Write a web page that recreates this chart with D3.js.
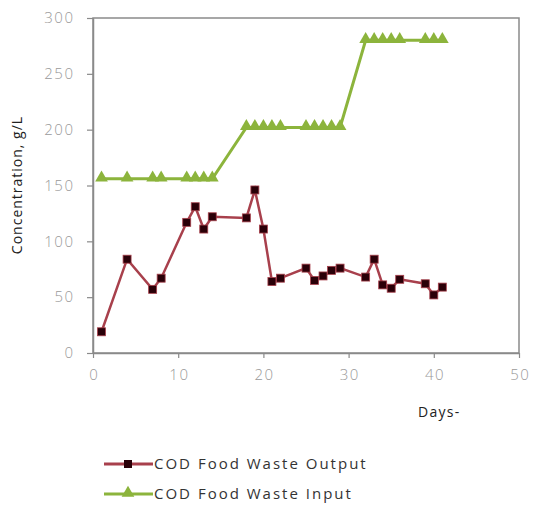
<!DOCTYPE html>
<html><head><meta charset="utf-8">
<script src="https://cdn.jsdelivr.net/npm/d3@7"></script>
<style>body{margin:0;background:#fff}svg{display:block}text{font-family:"Open Sans","Liberation Sans",sans-serif}</style>
</head><body>
<svg id="c" width="533" height="515"></svg>
<script>
const outDays = [1,4,7,8,11,12,13,14,18,19,20,21,22,25,26,27,28,29,32,33,34,35,36,39,40,41];
const outVals = [19,84,57,67,117,131,111,122,121,146,111,64,67,76,65,69,74,76,68,84,61,58,66,62,52,59];
const inDays = [1,4,7,8,11,12,13,14,18,19,20,21,22,25,26,27,28,29,32,33,34,35,36,39,40,41];
const inVals = [156,156,156,156,156,156,156,156,202,202,202,202,202,202,202,202,202,202,280,280,280,280,280,280,280,280];
const xTicks = [0,10,20,30,40,50];
const yTicks = [0,50,100,150,200,250,300];
const seriesNames = ["COD Food Waste Output","COD Food Waste Input"];

const svg = d3.select("#c");
const x = d3.scaleLinear().domain([0,50]).range([93,519]);
const y = d3.scaleLinear().domain([0,300]).range([353,18]);
const axisCol = "#8a8a8a", lblCol = "#9a9a9a";
const redLine = "#a8404c", redMark = "#2a0008", green = "#8cb43c";

svg.append("rect").attr("x",93).attr("y",18).attr("width",426).attr("height",335)
  .attr("fill","none").attr("stroke",axisCol).attr("stroke-width",1.5);

const xa = svg.append("g").attr("transform","translate(0,353)")
  .call(d3.axisBottom(x).tickValues(xTicks).tickSize(5).tickSizeOuter(0));
const ya = svg.append("g").attr("transform","translate(93,0)")
  .call(d3.axisLeft(y).tickValues(yTicks).tickSize(6).tickSizeOuter(0));
[xa,ya].forEach(a=>{
  a.select(".domain").attr("stroke",axisCol).attr("stroke-width",1.5);
  a.selectAll(".tick line").attr("stroke",axisCol).attr("stroke-width",1.2);
  a.selectAll("text").attr("fill",lblCol).attr("font-size",15).attr("font-weight",300).attr("letter-spacing","1.5px");
});
xa.selectAll("text").attr("dy","1.25em").attr("dx","0.7px");
ya.selectAll("text").attr("x",-18.5);

// input series
const inData = inDays.map((d,i)=>[d,inVals[i]]);
svg.append("path").datum(inData).attr("fill","none").attr("stroke",green).attr("stroke-width",3)
  .attr("d",d3.line().x(d=>x(d[0])).y(d=>y(d[1])));
const tri = d3.symbol().type(d3.symbolTriangle).size(70);
svg.selectAll(".tri").data(inData).join("path").attr("class","tri")
  .attr("transform",d=>`translate(${x(d[0])},${y(d[1])-1})`).attr("d",tri).attr("fill",green);

// output series
const outData = outDays.map((d,i)=>[d,outVals[i]]);
svg.append("path").datum(outData).attr("fill","none").attr("stroke",redLine).attr("stroke-width",2.5)
  .attr("d",d3.line().x(d=>x(d[0])).y(d=>y(d[1])));
svg.selectAll(".sq").data(outData).join("rect").attr("class","sq")
  .attr("x",d=>x(d[0])-4).attr("y",d=>y(d[1])-4).attr("width",8).attr("height",8)
  .attr("fill",redMark).attr("stroke",redLine).attr("stroke-width",0.8);

// axis titles
svg.append("text").attr("x",418).attr("y",417).attr("font-size",14).attr("fill","#222")
  .attr("letter-spacing","1.3px").text("Days-");
svg.append("text").attr("transform","translate(22,185) rotate(-90)").attr("text-anchor","middle")
  .attr("font-size",14).attr("fill","#222").attr("letter-spacing","1px").text("Concentration, g/L");

// legend
const leg = [{y:464,c:redLine,m:"sq"},{y:494,c:green,m:"tri"}];
leg.forEach((l,i)=>{
  svg.append("line").attr("x1",104).attr("x2",153).attr("y1",l.y).attr("y2",l.y).attr("stroke",l.c).attr("stroke-width",3);
  if(l.m==="sq") svg.append("rect").attr("x",124).attr("y",l.y-4).attr("width",8).attr("height",8).attr("fill",redMark);
  else svg.append("path").attr("transform",`translate(128,${l.y-1})`).attr("d",tri).attr("fill",green);
  svg.append("text").attr("x",154).attr("y",l.y+5).attr("font-size",15).attr("fill","#333")
    .attr("letter-spacing","2px").text(seriesNames[i]);
});
</script>
</body></html>
